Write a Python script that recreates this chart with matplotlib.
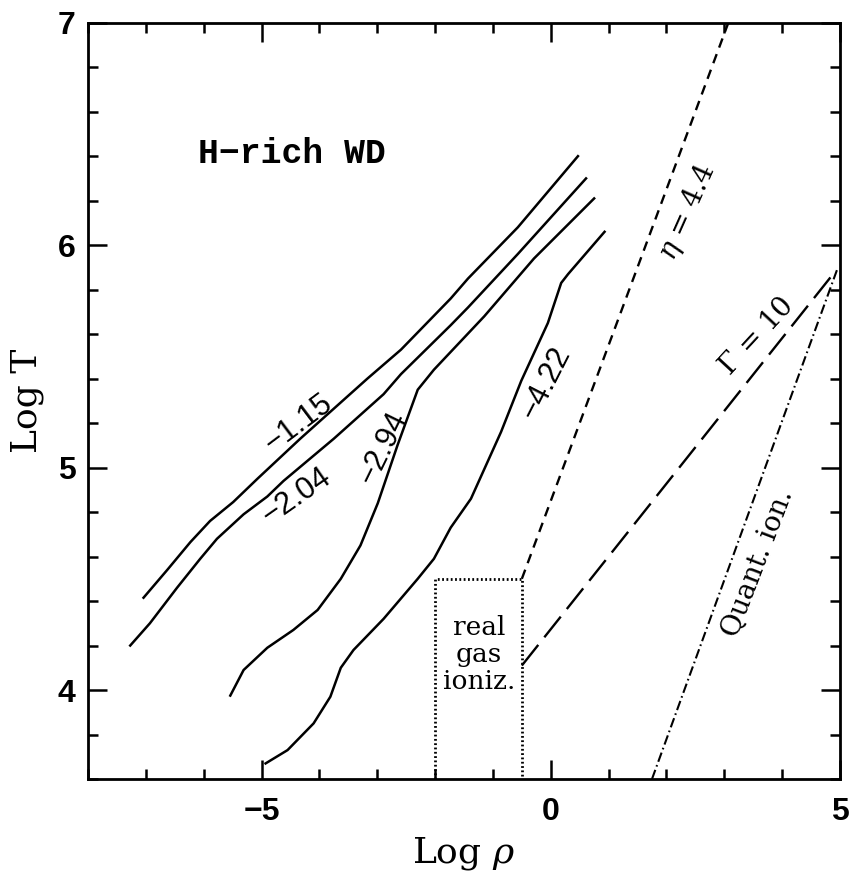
import matplotlib
matplotlib.use('Agg')
import matplotlib.pyplot as plt
from matplotlib.ticker import MultipleLocator

plt.rcParams['mathtext.fontset'] = 'dejavuserif'
plt.rcParams['lines.scale_dashes'] = False

# iso-contours in the log rho - log T plane
c115_x = [-7.04, -6.63, -6.23, -5.89, -5.49, -5.07, -4.33, -3.17, -2.59, -1.73, -1.43, -0.57, 0.47]
c115_y = [4.415, 4.54, 4.665, 4.76, 4.845, 4.95, 5.13, 5.40, 5.53, 5.76, 5.85, 6.08, 6.40]

c204_x = [-7.27, -6.93, -6.46, -6.06, -5.77, -5.31, -4.90, -4.62, -3.75, -2.89, -2.59, -1.73, -1.43, -0.57, 0.61]
c204_y = [4.20, 4.30, 4.46, 4.59, 4.68, 4.79, 4.87, 4.94, 5.13, 5.33, 5.42, 5.64, 5.72, 5.96, 6.30]

c294_x = [-5.54, -5.31, -4.90, -4.45, -4.03, -3.63, -3.29, -2.99, -2.65, -2.30, -2.02, -1.15, -0.29, 0.75]
c294_y = [3.975, 4.09, 4.19, 4.27, 4.36, 4.50, 4.65, 4.84, 5.10, 5.35, 5.44, 5.68, 5.94, 6.21]

c422_x = [-4.93, -4.55, -4.10, -3.81, -3.63, -3.41, -2.89, -2.30, -2.02, -1.73, -1.38, -0.86, -0.51, -0.05, 0.18, 0.30, 0.93]
c422_y = [3.67, 3.73, 3.85, 3.97, 4.10, 4.18, 4.32, 4.50, 4.59, 4.73, 4.86, 5.16, 5.39, 5.65, 5.83, 5.87, 6.06]

# boundary lines
eta_x = [-0.5, 3.07]
eta_y = [4.5, 7.0]
gam_x = [-0.5, 4.85]
gam_y = [4.11, 5.86]
qion_x = [1.75, 4.95]
qion_y = [3.6, 5.89]
box_x = [-2.0, -2.0, -0.5, -0.5]
box_y = [3.6, 4.5, 4.5, 3.6]

fig = plt.figure(figsize=(8.51, 8.77), dpi=100)
ax = fig.add_axes([88/851, 1-779/877, (840-88)/851, (779-22.7)/877])

lw = 1.8
ax.plot(c115_x, c115_y, 'k-', lw=lw)
ax.plot(c204_x, c204_y, 'k-', lw=lw)
ax.plot(c294_x, c294_y, 'k-', lw=lw)
ax.plot(c422_x, c422_y, 'k-', lw=lw)
ax.plot(eta_x, eta_y, 'k', lw=1.7, dashes=(7, 5))
ax.plot(gam_x, gam_y, 'k', lw=1.7, dashes=(19, 7))
ax.plot(qion_x, qion_y, 'k', lw=1.5, dashes=(7, 2.5, 1.2, 2.5))
ax.plot(box_x, box_y, 'k', lw=2.0, dashes=(1.3, 1.8))

ax.set_xlim(-8, 5)
ax.set_ylim(3.6, 7)

lab = dict(family='Liberation Sans', fontsize=22, ha='center', va='center', rotation_mode='anchor')
ax.text(-4.36, 5.20, '\u22121.15', rotation=37, **lab)
ax.text(-4.40, 4.87, '\u22122.04', rotation=35, **lab)
ax.text(-2.89, 5.09, '\u22122.94', rotation=64, **lab)
ax.text(-0.08, 5.38, '\u22124.22', rotation=63, **lab)

ser = dict(family='DejaVu Serif', fontsize=20, ha='center', va='center', rotation_mode='anchor')
ax.text(2.36, 6.15, r'$\eta$ = 4.4', rotation=66, **ser)
ax.text(3.56, 5.59, r'$\Gamma$ = 10', rotation=47, **ser)
ax.text(3.58, 4.57, 'Quant. ion.', rotation=69, **ser)
ax.text(-1.24, 4.16, 'real\ngas\nioniz.', family='DejaVu Serif', fontsize=19,
        ha='center', va='center', linespacing=1.1)

ax.text(-6.09, 6.41, 'H\u2212rich WD', family='Liberation Mono', fontsize=25,
        fontweight='bold', ha='left', va='center')

ax.set_xlabel(r'Log $\rho$', family='DejaVu Serif', fontsize=26, labelpad=6)
ax.set_ylabel('Log T', family='DejaVu Serif', fontsize=26, labelpad=10)

ax.xaxis.set_major_locator(MultipleLocator(5))
ax.xaxis.set_minor_locator(MultipleLocator(1))
ax.yaxis.set_major_locator(MultipleLocator(1))
ax.yaxis.set_minor_locator(MultipleLocator(0.2))
ax.tick_params(which='both', direction='in', top=True, right=True, width=1.8)
ax.tick_params(which='major', length=14)
ax.tick_params(which='minor', length=7.5)
ax.tick_params(axis='x', pad=13)
ax.tick_params(axis='y', pad=9)
for t in ax.get_xticklabels() + ax.get_yticklabels():
    t.set_family('Liberation Sans')
    t.set_fontweight('bold')
    t.set_fontsize(23)
for s in ax.spines.values():
    s.set_linewidth(2)

fig.savefig('out.png', dpi=100)
